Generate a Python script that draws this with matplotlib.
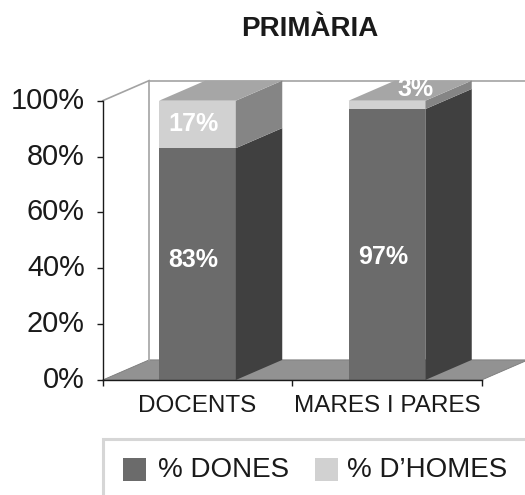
import matplotlib
matplotlib.use("Agg")
import matplotlib.pyplot as plt
from matplotlib.patches import Polygon, Rectangle
from matplotlib.transforms import ScaledTranslation
import numpy as np

plt.rcParams['font.family'] = ['Liberation Sans', 'DejaVu Sans']

# ---- data ----
title = "PRIMÀRIA"
categories = ["DOCENTS", "MARES I PARES"]
series_names = ["% DONES", "% D\u2019HOMES"]
dones = [83, 97]
homes = [17, 3]
yticks = [0, 20, 40, 60, 80, 100]
ytick_labels = ["0%", "20%", "40%", "60%", "80%", "100%"]

# ---- style ----
W, H = 525, 495
front_cols = ["#6b6b6b", "#d1d1d1"]
side_cols = ["#404040", "#858585"]
top_col = "#a6a6a6"
floor_col = "#929292"
wall_col = "#a3a3a3"
bar_w = 0.405
DX, DY = 0.245, 7.2   # depth offset in data units

fig = plt.figure(figsize=(W / 100, H / 100), dpi=100)
left, right, bottom_px, top_px = 102.7, 481.7, 380.0, 100.7
ax = fig.add_axes([left / W, 1 - bottom_px / H, (right - left) / W, (bottom_px - top_px) / H])
ax.set_xlim(-0.5, 1.5)
ax.set_ylim(0, 100)
ax.patch.set_alpha(0)

x0, x1 = ax.get_xlim()
# floor
ax.add_patch(Polygon([(x0, 0), (x1, 0), (x1 + DX, DY), (x0 + DX, DY)], closed=True,
                     facecolor=floor_col, edgecolor="#7a7a7a", lw=0.6, clip_on=False, zorder=1))
# back wall lines
ax.plot([x0 + DX, x0 + DX], [DY, 100 + DY], color=wall_col, lw=1.2, clip_on=False, zorder=1)
ax.plot([x0 + DX, x1 + DX + 0.1], [100 + DY, 100 + DY], color=wall_col, lw=1.2, clip_on=False, zorder=1)
ax.plot([x0, x0 + DX], [100, 100 + DY], color=wall_col, lw=1.2, clip_on=False, zorder=1)

xs = np.arange(len(categories))
for i, xc in enumerate(xs):
    base = 0
    vals = [dones[i], homes[i]]
    for s, v in enumerate(vals):
        a, b = xc - bar_w / 2, xc + bar_w / 2
        ax.add_patch(Polygon([(a, base), (b, base), (b, base + v), (a, base + v)], closed=True,
                             facecolor=front_cols[s], edgecolor="none", clip_on=False, zorder=3))
        ax.add_patch(Polygon([(b, base), (b + DX, base + DY), (b + DX, base + v + DY), (b, base + v)],
                             closed=True, facecolor=side_cols[s], edgecolor="none", clip_on=False, zorder=3))
        base += v
    a, b = xc - bar_w / 2, xc + bar_w / 2
    ax.add_patch(Polygon([(a, base), (b, base), (b + DX, base + DY), (a + DX, base + DY)], closed=True,
                         facecolor=top_col, edgecolor="none", clip_on=False, zorder=3))
    # labels
    ax.text(xc - 0.02, min(dones[i] / 2 + 1.5, 44), f"{dones[i]}%", ha="center", va="center",
            color="white", fontsize=18, fontweight="bold", zorder=5)
    if homes[i] >= 8:
        ax.text(xc - 0.02, dones[i] + homes[i] / 2, f"{homes[i]}%", ha="center", va="center",
                color="white", fontsize=18, fontweight="bold", zorder=5)
    else:
        ax.text(xc + DX * 0.62, base + DY / 2 + 0.5, f"{homes[i]}%", ha="center", va="center",
                color="white", fontsize=18, fontweight="bold", zorder=5)

# axes styling
for sp in ["top", "right"]:
    ax.spines[sp].set_visible(False)
for sp in ["left", "bottom"]:
    ax.spines[sp].set_color("#1a1a1a")
    ax.spines[sp].set_linewidth(1.0)
    ax.spines[sp].set_zorder(6)

ax.set_yticks(yticks, ytick_labels)
ax.tick_params(axis="y", direction="out", length=4, width=1.0, pad=9, labelsize=20.8,
               colors="#1a1a1a", labelcolor="#1a1a1a")
off = ScaledTranslation(0, 0.03, fig.dpi_scale_trans)
for lab in ax.get_yticklabels():
    lab.set_transform(lab.get_transform() + off)

ax.set_xticks(xs, categories)
ax.set_xticks([x0, 0.5, x1], minor=True)
ax.tick_params(axis="x", which="major", length=0, pad=11, labelsize=17.5, labelcolor="#1a1a1a")
ax.tick_params(axis="x", which="minor", direction="out", length=4, width=1.0, color="#1a1a1a")

# title
fig.text(310 / W, 1 - 36 / H, title, ha="center", va="baseline", fontsize=20, fontweight="bold",
         color="#1a1a1a")

# legend (manual)
fig.patches.append(Rectangle((103 / W, 1 - 530 / H), 440 / W, 91 / H, transform=fig.transFigure,
                             facecolor="none", edgecolor="#d6d6d6", lw=2.2, clip_on=False))
sq = 23
entries_x = [122.7, 315]
text_x = [158, 346.7]
for k, name in enumerate(series_names):
    fig.patches.append(Rectangle((entries_x[k] / W, 1 - 481 / H), sq / W, sq / H,
                                 transform=fig.transFigure, facecolor=front_cols[k], edgecolor="none"))
    fig.text(text_x[k] / W, 1 - 477 / H, name, ha="left", va="baseline", fontsize=20, color="#1a1a1a")

fig.savefig("out.png", dpi=100)
